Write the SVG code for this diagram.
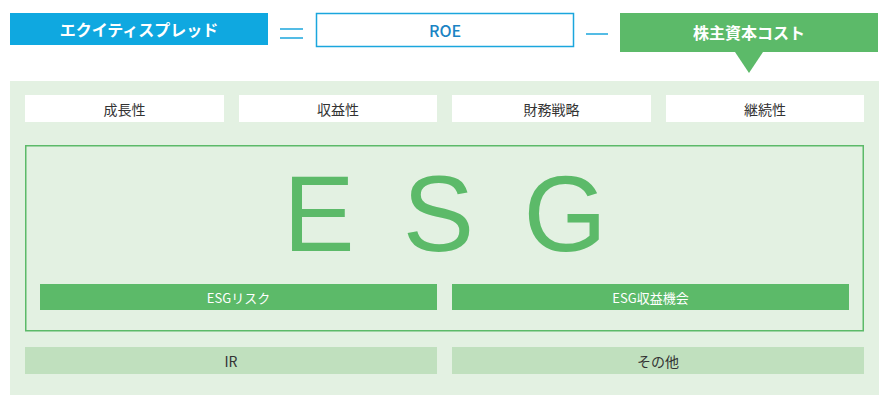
<svg xmlns="http://www.w3.org/2000/svg" width="895" height="410" viewBox="0 0 895 410">
<style>
.t{font-family:"Noto Sans CJK JP","Liberation Sans",sans-serif;text-anchor:middle;dominant-baseline:central}
.hd{font-size:16px;font-weight:bold;fill:#fff}
.wb{fill:#fff}
.wt{font-size:14px;fill:#333}
.gb{fill:#5cba69}
.gt{font-size:13px;fill:#fff}
.lb{fill:#c0e0be}
.ln{stroke:#1ba6dd;stroke-width:1.5;fill:none}
.big{font-family:"Liberation Sans",sans-serif;font-size:107px;fill:#5cba69;text-anchor:middle}
</style>
<rect x="0" y="0" width="895" height="410" fill="#fff"/>
<g id="connectors">
<line class="ln" x1="280" y1="29" x2="303" y2="29"/>
<line class="ln" x1="280" y1="38" x2="303" y2="38"/>
<line class="ln" x1="586" y1="34" x2="608" y2="34"/>
</g>
<g id="equity-spread">
<rect x="10" y="13" width="258" height="32" fill="#0fa8e0"/>
<text class="t hd" x="139" y="29">エクイティスプレッド</text>
</g>
<g id="roe">
<rect x="316.5" y="13.5" width="257" height="33" fill="#fff" stroke="#1ba6dd" stroke-width="1.5"/>
<text class="t" x="445" y="30" font-size="16" fill="#1b84c4" font-weight="500">ROE</text>
</g>
<g id="cost">
<rect x="620" y="13" width="258" height="39" fill="#5cba69"/>
<polygon points="735,52 763,52 749,73" fill="#5cba69"/>
<text class="t hd" x="749" y="32">株主資本コスト</text>
</g>
<g id="panel">
<rect x="10" y="81" width="869" height="314" fill="#e3f1e2"/>
</g>
<g id="growth"><rect class="wb" x="25" y="95" width="199" height="27"/><text class="t wt" x="124.5" y="108.5">成長性</text></g>
<g id="profit"><rect class="wb" x="239" y="95" width="198" height="27"/><text class="t wt" x="338" y="108.5">収益性</text></g>
<g id="finance"><rect class="wb" x="452" y="95" width="199" height="27"/><text class="t wt" x="551.5" y="108.5">財務戦略</text></g>
<g id="continuity"><rect class="wb" x="666" y="95" width="198" height="27"/><text class="t wt" x="765" y="108.5">継続性</text></g>
<g id="esg">
<rect x="25.75" y="145.75" width="837.5" height="185" fill="none" stroke="#5cba69" stroke-width="1.5"/>
<text class="big" x="319" y="251">E</text>
<text class="big" x="438.5" y="251">S</text>
<text class="big" x="565" y="251">G</text>
</g>
<g id="esg-risk"><rect class="gb" x="40" y="284" width="397" height="26"/><text class="t gt" x="238.5" y="297">ESGリスク</text></g>
<g id="esg-opp"><rect class="gb" x="452" y="284" width="397" height="26"/><text class="t gt" x="650.5" y="297">ESG収益機会</text></g>
<g id="ir"><rect class="lb" x="25" y="347" width="412" height="27"/><text class="t wt" x="231" y="360.5">IR</text></g>
<g id="other"><rect class="lb" x="452" y="347" width="412" height="27"/><text class="t wt" x="658" y="360.5">その他</text></g>
</svg>
